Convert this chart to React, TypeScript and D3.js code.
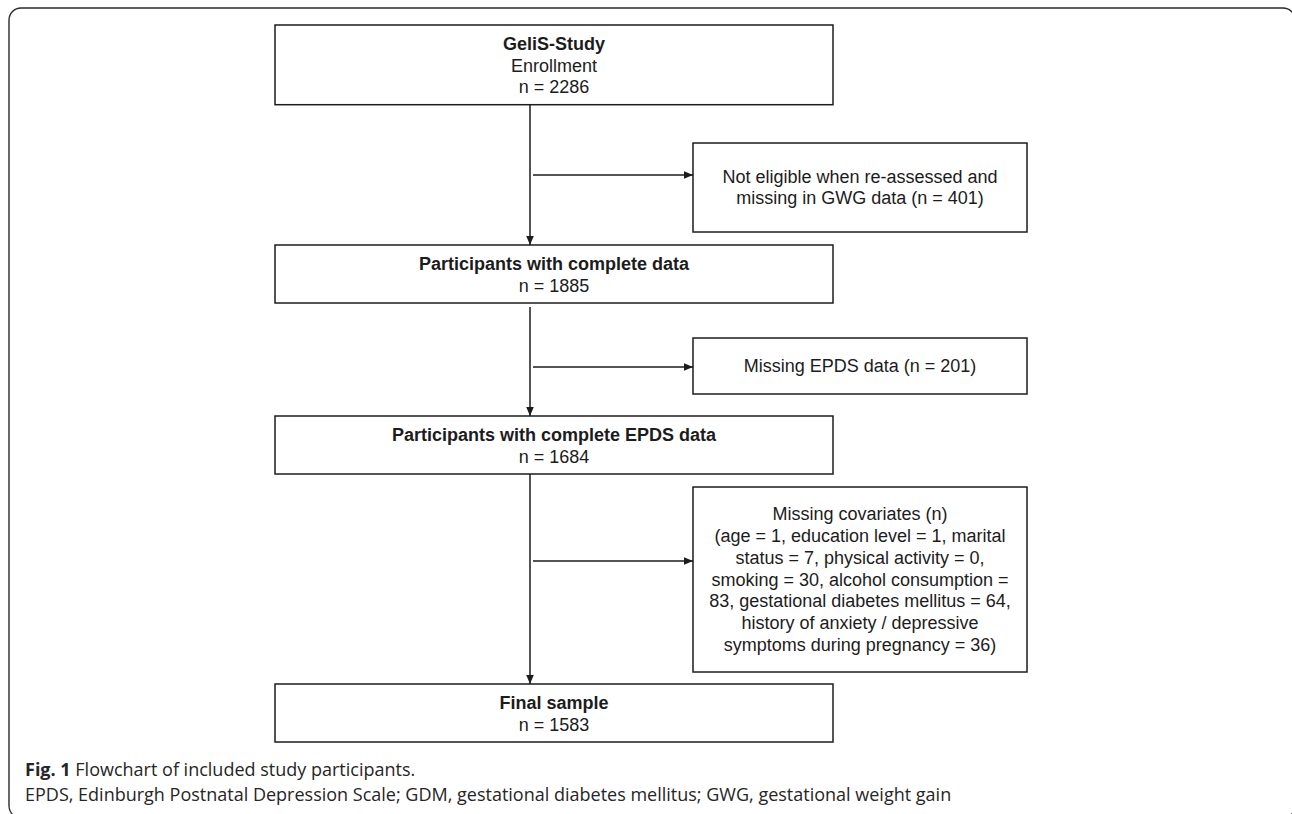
import { useEffect, useRef } from "react";
import * as d3 from "d3";

// Flow steps (main column)
const STEP_TITLES = [
  "GeliS-Study",
  "Participants with complete data",
  "Participants with complete EPDS data",
  "Final sample",
];
const STEP_SUBTITLES = ["Enrollment", "", "", ""];
const STEP_COUNTS = [2286, 1885, 1684, 1583];

// Exclusions (side boxes)
const EXCLUSION_LINES = [
  ["Not eligible when re-assessed and", "missing in GWG data (n = 401)"],
  ["Missing EPDS data (n = 201)"],
  [
    "Missing covariates (n)",
    "(age = 1, education level = 1, marital",
    "status = 7, physical activity = 0,",
    "smoking = 30, alcohol consumption =",
    "83, gestational diabetes mellitus = 64,",
    "history of anxiety / depressive",
    "symptoms during pregnancy = 36)",
  ],
];

const CAPTION_LABEL = "Fig. 1";
const CAPTION_TITLE = " Flowchart of included study participants.";
const CAPTION_NOTE =
  "EPDS, Edinburgh Postnatal Depression Scale; GDM, gestational diabetes mellitus; GWG, gestational weight gain";

const W = 1292;
const H = 814;

// layout (pixels)
const MAIN_X0 = 275;
const MAIN_X1 = 833;
const MAIN_TOPS = [25, 245, 416, 684];
const SPINE_X = 530;
const SIDE_X0 = 693;
const SIDE_X1 = 1027;
const SIDE_TOPS = [143, 338, 487];
const SIDE_BOTTOMS = [232, 394, 672];
const BRANCH_Y = [175, 367, 561];
const LINE_H = 21.7;

const BOX_FONT = "'Liberation Sans', Arial, Helvetica, sans-serif";
const CAPTION_FONT = "'Open Sans', 'Noto Sans', sans-serif";
const INK = "#1c1c1c";

export default function App() {
  const svgRef = useRef<SVGSVGElement>(null);

  useEffect(() => {
    if (!svgRef.current) return;
    const svg = d3.select(svgRef.current);
    svg.selectAll("*").remove();

    svg
      .append("defs")
      .append("marker")
      .attr("id", "arrow")
      .attr("viewBox", "0 0 10 10")
      .attr("refX", 10)
      .attr("refY", 5)
      .attr("markerWidth", 9)
      .attr("markerHeight", 9)
      .attr("markerUnits", "userSpaceOnUse")
      .attr("orient", "auto")
      .append("path")
      .attr("d", "M0,0.8 L10,5 L0,9.2 Z")
      .attr("fill", INK);

    // outer frame (rounded, partly cut by the page edge)
    svg
      .append("rect")
      .attr("x", 9)
      .attr("y", 8)
      .attr("width", 1286)
      .attr("height", 810)
      .attr("rx", 12)
      .attr("fill", "none")
      .attr("stroke", "#2a2a2a")
      .attr("stroke-width", 1.4);

    // main boxes
    const mainBoxes = STEP_TITLES.map((title, i) => {
      const lines = [
        { text: title, bold: true },
        ...(STEP_SUBTITLES[i] ? [{ text: STEP_SUBTITLES[i], bold: false }] : []),
        { text: `n = ${STEP_COUNTS[i]}`, bold: false },
      ];
      const top = MAIN_TOPS[i];
      const bottom = top + 14.6 + lines.length * LINE_H;
      return { lines, top, bottom };
    });

    const g = svg.append("g");

    mainBoxes.forEach((b) => {
      g.append("rect")
        .attr("x", MAIN_X0)
        .attr("y", b.top)
        .attr("width", MAIN_X1 - MAIN_X0)
        .attr("height", b.bottom - b.top)
        .attr("fill", "#fff")
        .attr("stroke", INK)
        .attr("stroke-width", 1.5);
      const cx = (MAIN_X0 + MAIN_X1) / 2;
      b.lines.forEach((ln, j) => {
        g.append("text")
          .attr("x", cx)
          .attr("y", b.top + 25 + j * LINE_H)
          .attr("text-anchor", "middle")
          .attr("font-family", BOX_FONT)
          .attr("font-size", 18)
          .attr("font-weight", ln.bold ? 700 : 400)
          .attr("fill", INK)
          .text(ln.text);
      });
    });

    // spine with arrows into the next main box
    for (let i = 0; i < mainBoxes.length - 1; i++) {
      g.append("line")
        .attr("x1", SPINE_X)
        .attr("x2", SPINE_X)
        .attr("y1", mainBoxes[i].bottom + (i === 1 ? 4 : 0))
        .attr("y2", mainBoxes[i + 1].top)
        .attr("stroke", INK)
        .attr("stroke-width", 1.5)
        .attr("marker-end", "url(#arrow)");
    }

    // side boxes + branch arrows
    EXCLUSION_LINES.forEach((lines, i) => {
      const top = SIDE_TOPS[i];
      const bottom = SIDE_BOTTOMS[i];
      g.append("rect")
        .attr("x", SIDE_X0)
        .attr("y", top)
        .attr("width", SIDE_X1 - SIDE_X0)
        .attr("height", bottom - top)
        .attr("fill", "#fff")
        .attr("stroke", INK)
        .attr("stroke-width", 1.5);
      const cx = (SIDE_X0 + SIDE_X1) / 2;
      const mid = (top + bottom) / 2;
      const first = mid - ((lines.length - 1) * LINE_H) / 2 + 6;
      lines.forEach((t, j) => {
        g.append("text")
          .attr("x", cx)
          .attr("y", first + j * LINE_H)
          .attr("text-anchor", "middle")
          .attr("font-family", BOX_FONT)
          .attr("font-size", 18)
          .attr("fill", INK)
          .text(t);
      });

      g.append("line")
        .attr("x1", SPINE_X + 3)
        .attr("x2", SIDE_X0)
        .attr("y1", BRANCH_Y[i])
        .attr("y2", BRANCH_Y[i])
        .attr("stroke", INK)
        .attr("stroke-width", 1.5)
        .attr("marker-end", "url(#arrow)");
    });

    // caption
    const cap = svg
      .append("text")
      .attr("x", 25)
      .attr("y", 776)
      .attr("font-family", CAPTION_FONT)
      .attr("font-size", 18)
      .attr("fill", "#262626");
    cap.append("tspan").attr("font-weight", 700).text(CAPTION_LABEL);
    cap.append("tspan").text(CAPTION_TITLE);

    svg
      .append("text")
      .attr("x", 25)
      .attr("y", 801)
      .attr("font-family", CAPTION_FONT)
      .attr("font-size", 18)
      .attr("fill", "#262626")
      .text(CAPTION_NOTE);
  }, []);

  return (
    <svg
      ref={svgRef}
      width={W}
      height={H}
      style={{ position: "absolute", left: 0, top: 0, display: "block", background: "#fff" }}
    />
  );
}
